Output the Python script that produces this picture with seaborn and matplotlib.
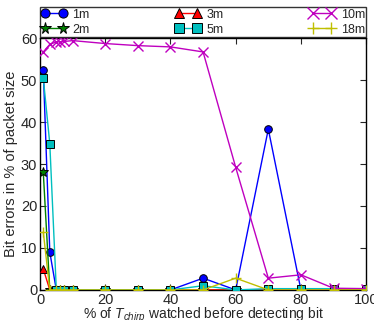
import numpy as np
import pandas as pd
import matplotlib
matplotlib.use('Agg')
from matplotlib import pyplot as plt
import seaborn as sns

# % of T_chirp watched before detecting bit
watched = [1, 3, 5, 6, 7.5, 10, 20, 30, 40, 50, 60, 70, 80, 90, 100]

# bit errors in % of packet size, one list per distance
err_1m = [52.5, 9, 0, 0, 0, 0, 0, 0, 0, 2.8, 0, 38.3, 0, 0, 0]
err_2m = [28, 0, 0, 0, 0, 0, 0, 0, 0, 0, 0, 0, 0, 0, 0]
err_3m = [5, 0, 0, 0, 0, 0, 0, 0, 0, 0, 0, 0, 0, 0, 0]
err_5m = [50.5, 34.8, 0, 0, 0, 0, 0, 0, 0, 1.0, 0, 0.3, 0.3, 0.3, 0.3]
err_10m = [56.7, 58.5, 59.1, 59.1, 59.2, 59.4, 58.7, 58.2, 57.9, 56.7, 29.2, 2.8, 3.6, 0.4, 0.3]
err_18m = [13.8, 0, 0, 0, 0, 0, 0, 0, 0, 0, 2.8, 0, 0, 0, 0]

labels = ['1m', '2m', '3m', '5m', '10m', '18m']
series = [err_1m, err_2m, err_3m, err_5m, err_10m, err_18m]
colors = ['#0000ff', '#008000', '#ff0000', '#00bfbf', '#bf00bf', '#bfbf00']
markers = ['o', '*', '^', 's', 'x', '+']
msizes = [5.5, 7, 5.5, 5.5, 7, 7]

sns.set_style('ticks')
plt.rcParams['font.family'] = ['Liberation Sans', 'DejaVu Sans']
plt.rcParams['mathtext.fontset'] = 'custom'
plt.rcParams['mathtext.it'] = 'Liberation Sans:italic'
plt.rcParams['mathtext.rm'] = 'Liberation Sans'

fig = plt.figure(figsize=(3.74, 3.2), dpi=100)
ax = fig.add_axes([0.107, 0.094, 0.872, 0.787])

for lab, vals, col, mk, ms in zip(labels, series, colors, markers, msizes):
    df = pd.DataFrame({'x': watched, 'y': vals})
    filled = mk not in ('x', '+')
    sns.lineplot(data=df, x='x', y='y', ax=ax, color=col, marker=mk,
                 markersize=ms,
                 markeredgecolor='black' if filled else col,
                 markeredgewidth=0.7 if filled else 1.0,
                 linewidth=1, label=lab, zorder=3)

ax.set_xlim(0, 100)
ax.set_ylim(0, 60)
ax.set_xticks([0, 20, 40, 60, 80, 100])
ax.set_yticks([0, 10, 20, 30, 40, 50, 60])
ax.tick_params(direction='in', top=True, right=True, labelsize=10.5, length=4, pad=2)
for s in ax.spines.values():
    s.set_linewidth(1)
    s.set_color('black')

ax.set_xlabel('% of $T_{chirp}$ watched before detecting bit', fontsize=10, labelpad=-1)
ax.set_ylabel('Bit errors in % of packet size', fontsize=10.5, labelpad=2)

ax.legend(loc='lower left', bbox_to_anchor=(0, 1.004, 1, 0.1), mode='expand',
          ncol=3, fontsize=9, frameon=True, fancybox=False, edgecolor='black',
          borderaxespad=0, handlelength=2.0, labelspacing=0.25, borderpad=0.1,
          handletextpad=0.5, numpoints=2, markerscale=1.2)

fig.savefig('out.png', dpi=100)
